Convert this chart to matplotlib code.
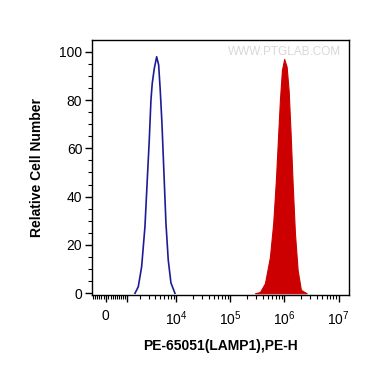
"""Flow cytometry overlay: PE-65051 (LAMP1) vs. unstained control, biexponential-like x axis."""
import matplotlib
matplotlib.use("Agg")
import matplotlib.pyplot as plt
import numpy as np

plt.rcParams["font.family"] = ["Liberation Sans", "DejaVu Sans"]
plt.rcParams["mathtext.fontset"] = "custom"
plt.rcParams["mathtext.rm"] = "Liberation Sans"

# control (blue outline) - intensity vs relative count
ctrl_x = [1584, 1860, 2184, 2545, 2826, 3092, 3334, 3531, 3859, 4286,
          4677, 5012, 5394, 5883, 6411, 7075, 7947, 9430]
ctrl_y = [0, 2.7, 11, 27.6, 46.9, 63.4, 80, 86.9, 93, 97.9,
          94.5, 84, 70.4, 49.7, 29, 13.8, 4.3, 0]

# LAMP1 stained (red filled)
lamp_x = [284800, 352000, 435600, 539000, 620000, 695500, 767000, 825000, 898500,
          990500, 1097500, 1195500, 1302000, 1417500, 1563500, 1753500, 2017500, 2571500]
lamp_y = [0, 0.5, 4.1, 15, 29, 46.9, 66, 80, 92.4,
          97, 93.8, 84, 66, 45.5, 24.8, 9.6, 1.4, 0]

major_ticks = [0, 1e3, 1e4, 1e5, 1e6, 1e7]
major_labels = ["0", "", "$10^4$", "$10^5$", "$10^6$", "$10^7$"]
y_ticks = [0, 20, 40, 60, 80, 100]


def main() -> None:
    fig = plt.figure(figsize=(3.70, 3.67), dpi=100)
    ax = fig.add_axes([0.2486, 0.195, 0.6946, 0.697])

    ax.set_xscale("asinh", linear_width=1000)
    ax.fill_between(lamp_x, lamp_y, 0, color="#cc0000", linewidth=0.8,
                    edgecolor="#cc0000")
    ax.plot(ctrl_x, ctrl_y, color="#1c1c96", linewidth=1.2)

    ax.set_xlim(-626, 1.56e7)
    ax.set_ylim(-0.9, 105)

    minors = []
    for m in range(1, 10):
        minors.append(-m * 100)
        minors.append(m * 100)
    for dec in [1e3, 1e4, 1e5, 1e6]:
        minors += [k * dec for k in range(2, 10)]
    minors = [v for v in minors if v > -626]
    ax.set_xticks(major_ticks)
    ax.set_xticklabels(major_labels)
    ax.set_xticks(minors, minor=True)
    ax.set_yticks(y_ticks)
    ax.set_yticks(np.arange(0, 105, 5), minor=True)

    ax.tick_params(axis="both", which="major", direction="out", length=5,
                   width=1, labelsize=10, colors="black")
    ax.tick_params(axis="both", which="minor", direction="out", length=3,
                   width=0.8)
    ax.tick_params(axis="x", which="major", pad=5)
    ax.tick_params(axis="y", which="major", pad=2)
    for sp in ax.spines.values():
        sp.set_linewidth(1.0)
        sp.set_color("black")

    ax.set_ylabel("Relative Cell Number", fontsize=10, fontweight="bold",
                  labelpad=11)
    ax.set_xlabel("PE-65051(LAMP1),PE-H", fontsize=10, fontweight="bold",
                  labelpad=8)
    ax.text(0.97, 0.975, "WWW.PTGLAB.COM", transform=ax.transAxes,
            ha="right", va="top", fontsize=8.5, color="#d8d8d8")

    fig.savefig("out.png", dpi=100)


if __name__ == "__main__":
    main()
